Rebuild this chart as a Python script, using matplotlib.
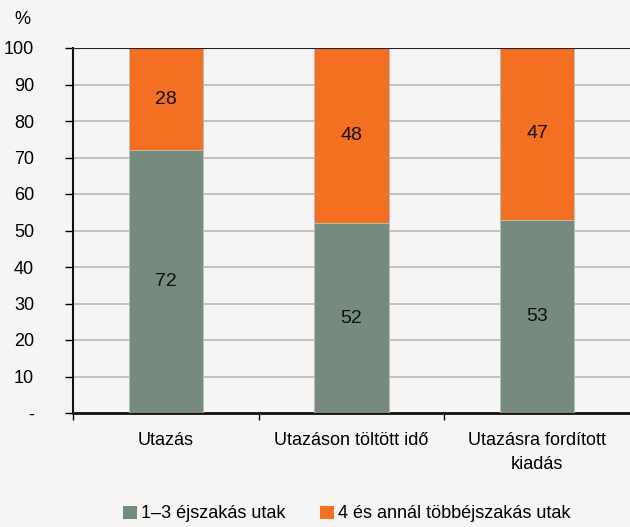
import matplotlib
matplotlib.use("Agg")
import matplotlib.pyplot as plt
from matplotlib.patches import Patch

categories = ["Utazás", "Utazáson töltött idő", "Utazásra fordított\nkiadás"]
short_trips = [72, 52, 53]
long_trips = [28, 48, 47]
series_names = ["1–3 éjszakás utak", "4 és annál többéjszakás utak"]
yticks = [0, 10, 20, 30, 40, 50, 60, 70, 80, 90, 100]
ytick_labels = ["-", "10", "20", "30", "40", "50", "60", "70", "80", "90", "100"]

grey = "#778a80"
orange = "#f37022"
bg = "#f6f5f3"

plt.rcParams['font.family'] = ['Liberation Sans', 'DejaVu Sans']
fs = 13

fig = plt.figure(figsize=(6.3, 5.27), dpi=100, facecolor=bg)
ax = fig.add_axes([73/630, 1 - 413/527, (630-73)/630, (413-48)/527])
ax.set_facecolor(bg)

x = list(range(len(categories)))
ax.bar(x, short_trips, width=0.4, color=grey, edgecolor="#b8c0bb", linewidth=0.6, zorder=3)
ax.bar(x, long_trips, width=0.4, bottom=short_trips, color=orange, edgecolor="#b8c0bb", linewidth=0.6, zorder=3)

for xi, s, l in zip(x, short_trips, long_trips):
    ax.text(xi, s / 2, str(s), ha="center", va="center", fontsize=14, color="#111111", zorder=4)
    ax.text(xi, s + l / 2, str(l), ha="center", va="center", fontsize=14, color="#111111", zorder=4)

ax.set_xlim(-0.5, 2.5)
ax.set_ylim(0, 100)
ax.set_yticks(yticks)
ax.set_yticklabels(ytick_labels, fontsize=fs)
for yv in yticks[1:-1]:
    ax.axhline(yv, color="#b8b8b8", linewidth=1.2, zorder=1)
ax.axhline(100, color="#222222", linewidth=1.5, zorder=5)

ax.set_xticks([-0.5, 0.5, 1.5])
ax.set_xticklabels([])
ax.set_xticks(x, minor=True)
ax.set_xticklabels(categories, minor=True, fontsize=fs, linespacing=1.5)
ax.tick_params(axis="x", which="minor", length=0, pad=14)
ax.tick_params(axis="x", which="major", length=5, width=1, direction="out")
ax.tick_params(axis="y", length=6, width=1, direction="out", pad=22)

for sp in ["top", "right"]:
    ax.spines[sp].set_visible(False)
ax.spines["left"].set_linewidth(1.5)
ax.spines["bottom"].set_linewidth(2)
ax.spines["left"].set_color("#111111")
ax.spines["bottom"].set_color("#111111")

fig.text(14/630, 1 - 20/527, "%", fontsize=fs, ha="left", va="center")

handles = [Patch(facecolor=grey, edgecolor="none"), Patch(facecolor=orange, edgecolor="none")]
fig.legend(handles, series_names, loc="center", bbox_to_anchor=(0.551, 1 - 514/527), ncol=2,
           frameon=False, fontsize=fs, handlelength=0.75, handleheight=0.75, handletextpad=0.25,
           columnspacing=1.9)

fig.savefig("out.png", dpi=100, facecolor=bg)
